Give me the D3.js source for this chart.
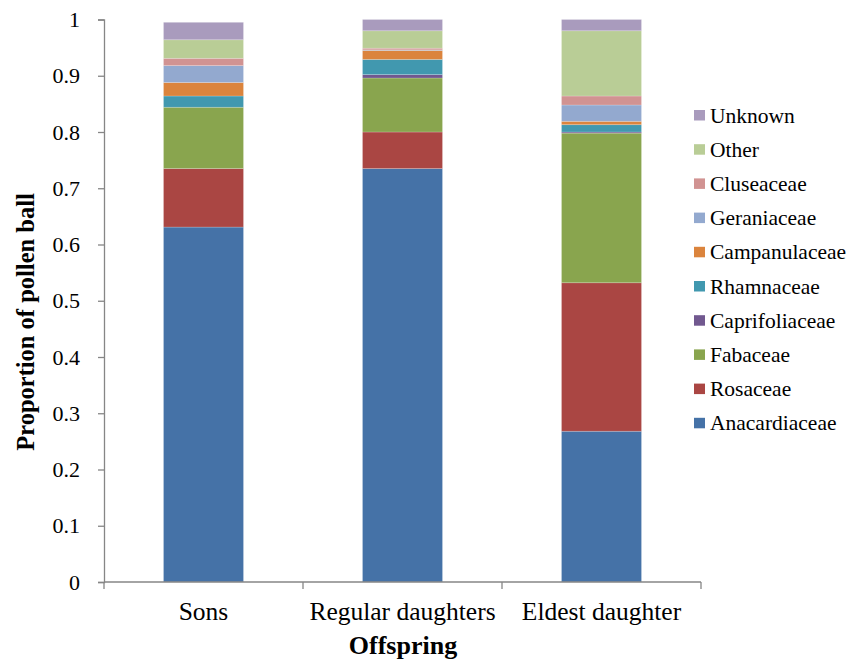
<!DOCTYPE html>
<html>
<head>
<meta charset="utf-8">
<script src="https://cdn.jsdelivr.net/npm/d3@7/dist/d3.min.js"></script>
<style>
  body { margin: 0; background: #fff; }
  svg { display: block; }
  text { font-family: "Liberation Serif", "Times New Roman", serif; fill: #000; }
</style>
</head>
<body>
<svg id="chart" width="856" height="662"></svg>
<script>
// Offspring groups on the x axis
const categories = ["Sons", "Regular daughters", "Eldest daughter"];

// Plant families, stacked bottom to top
const families = ["Anacardiaceae", "Rosaceae", "Fabaceae", "Caprifoliaceae", "Rhamnaceae",
                  "Campanulaceae", "Geraniaceae", "Cluseaceae", "Other", "Unknown"];

// Proportion of pollen ball per family, one value per offspring group
const anacardiaceae  = [0.631, 0.735, 0.268];
const rosaceae       = [0.104, 0.065, 0.264];
const fabaceae       = [0.109, 0.096, 0.266];
const caprifoliaceae = [0.000, 0.006, 0.002];
const rhamnaceae     = [0.020, 0.027, 0.013];
const campanulaceae  = [0.024, 0.016, 0.006];
const geraniaceae    = [0.030, 0.001, 0.029];
const cluseaceae     = [0.013, 0.003, 0.016];
const other          = [0.033, 0.031, 0.116];
const unknown        = [0.031, 0.020, 0.020];

const familyColors = ["#4572A7", "#AA4643", "#89A54E", "#71588F", "#4198AF",
                      "#DB843D", "#93A9CF", "#D19392", "#B9CD96", "#A99BBD"];

const yTicks = [0, 0.1, 0.2, 0.3, 0.4, 0.5, 0.6, 0.7, 0.8, 0.9, 1];

const seriesValues = [anacardiaceae, rosaceae, fabaceae, caprifoliaceae, rhamnaceae,
                      campanulaceae, geraniaceae, cluseaceae, other, unknown];

const rows = categories.map((c, i) => {
  const r = { group: c };
  families.forEach((f, j) => { r[f] = seriesValues[j][i]; });
  return r;
});

const svg = d3.select("#chart");
const axisColor = "#868686";
const serif = "'Liberation Serif', 'Times New Roman', serif";

const x = d3.scaleBand().domain(categories).range([104, 701])
  .paddingInner(0.598).paddingOuter(0.299);
const y = d3.scaleLinear().domain([0, 1]).range([582, 19.5]);
const color = d3.scaleOrdinal().domain(families).range(familyColors);

const stacked = d3.stack().keys(families)(rows);

// Stacked bars
svg.append("g").selectAll("g")
  .data(stacked)
  .join("g")
  .attr("fill", d => color(d.key))
  .selectAll("rect")
  .data(d => d)
  .join("rect")
  .attr("x", d => x(d.data.group))
  .attr("width", x.bandwidth())
  .attr("y", d => y(d[1]))
  .attr("height", d => Math.max(0, y(d[0]) - y(d[1])))
  .attr("stroke", "#ffffff")
  .attr("stroke-opacity", 0.25)
  .attr("stroke-width", 0.8);

// Y axis
const yAxis = svg.append("g").attr("transform", "translate(104,0)")
  .call(d3.axisLeft(y).tickValues(yTicks).tickSize(6).tickPadding(18)
    .tickFormat(d => d3.format("")(+d.toFixed(1))));
yAxis.attr("font-family", null).attr("font-size", null);
yAxis.select(".domain").attr("stroke", axisColor).attr("stroke-width", 1.3);
yAxis.selectAll(".tick line").attr("stroke", axisColor).attr("stroke-width", 1.3);
yAxis.selectAll(".tick text")
  .style("font-family", serif)
  .style("font-size", "22px").attr("fill", "#000");

// X axis: baseline with ticks between groups
const step = x.step();
const xAxisG = svg.append("g");
xAxisG.append("line")
  .attr("x1", 104).attr("x2", 701).attr("y1", y(0)).attr("y2", y(0))
  .attr("stroke", axisColor).attr("stroke-width", 1.3);
xAxisG.selectAll("line.tk")
  .data(d3.range(categories.length + 1))
  .join("line").attr("class", "tk")
  .attr("x1", i => x.range()[0] + i * step).attr("x2", i => x.range()[0] + i * step)
  .attr("y1", y(0)).attr("y2", y(0) + 7)
  .attr("stroke", axisColor).attr("stroke-width", 1.3);
xAxisG.selectAll("text.cat")
  .data(categories)
  .join("text").attr("class", "cat")
  .attr("x", d => x(d) + x.bandwidth() / 2)
  .attr("y", 620)
  .attr("text-anchor", "middle")
  .style("font-family", serif)
  .style("font-size", "25.5px")
  .text(d => d);

// Axis titles
svg.append("text")
  .attr("x", 403).attr("y", 654)
  .attr("text-anchor", "middle")
  .style("font-family", serif)
  .style("font-size", "26px").style("font-weight", "bold")
  .text("Offspring");

svg.append("text")
  .attr("transform", "translate(34,322) rotate(-90)")
  .attr("text-anchor", "middle")
  .style("font-family", serif)
  .style("font-size", "24.5px").style("font-weight", "bold")
  .text("Proportion of pollen ball");

// Legend, top entry is the top of the stack
const legendOrder = families.slice().reverse();
const legend = svg.append("g");
const items = legend.selectAll("g")
  .data(legendOrder)
  .join("g")
  .attr("transform", (d, i) => `translate(694,${122.5 + i * 34.2})`);
items.append("rect")
  .attr("y", -12.5)
  .attr("width", 11).attr("height", 10.5)
  .attr("fill", d => color(d));
items.append("text")
  .attr("x", 16).attr("y", 0)
  .style("font-family", serif)
  .style("font-size", "21.5px")
  .text(d => d);
</script>
</body>
</html>
